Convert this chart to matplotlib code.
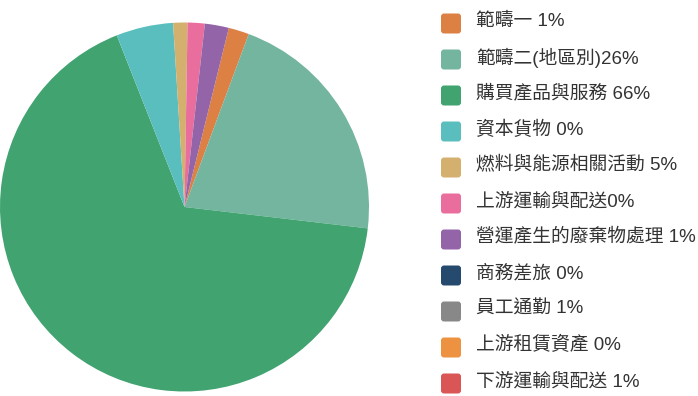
import matplotlib
matplotlib.use("Agg")
import matplotlib.pyplot as plt
from matplotlib.patches import FancyBboxPatch

plt.rcParams['font.family'] = ['Liberation Sans', 'Noto Sans CJK TC', 'DejaVu Sans']

labels = ["範疇一 1%", "範疇二(地區別)26%", "購買產品與服務 66%", "資本貨物 0%",
          "燃料與能源相關活動 5%", "上游運輸與配送0%", "營運產生的廢棄物處理 1%",
          "商務差旅 0%", "員工通勤 1%", "上游租賃資產 0%", "下游運輸與配送 1%"]
values = [1.8, 21.2, 67.2, 5.0, 1.25, 1.5, 2.1, 0, 0, 0, 0]
colors = ["#dd8044", "#74b5a0", "#40a370", "#5bbebe", "#d4b06e", "#e96e9e",
          "#9365a8", "#264a6e", "#888888", "#ec9240", "#da5555"]

W, H = 698, 396
fig = plt.figure(figsize=(W / 100, H / 100), dpi=100)
ax = fig.add_axes([0, 0, 1, 1])

nz = [(v, c) for v, c in zip(values, colors) if v > 0]
ax.pie([v for v, _ in nz], colors=[c for _, c in nz], center=(184.5, H - 207),
       radius=184.5, startangle=76.1, counterclock=False,
       wedgeprops=dict(linewidth=0), frame=True)
ax.set_xlim(0, W)
ax.set_ylim(0, H)
ax.set_aspect('equal')
ax.axis('off')

for i, (lab, col) in enumerate(zip(labels, colors)):
    ty = H - (21.5 + 36 * i)
    my = H - (23.5 + 36 * i)
    ax.add_patch(FancyBboxPatch((441, my - 10), 20, 20,
                                boxstyle="round,pad=0,rounding_size=3",
                                facecolor=col, edgecolor='none'))
    ax.text(476, ty, lab, fontsize=13.5, color="#333333", va='center', ha='left')

fig.savefig("out.png", dpi=100)
